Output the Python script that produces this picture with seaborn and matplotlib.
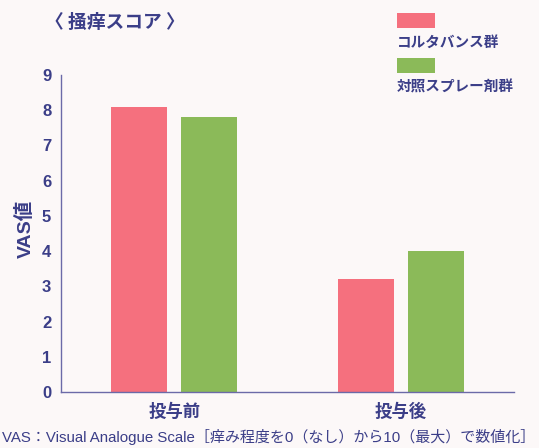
import matplotlib
matplotlib.use("Agg")
import matplotlib.pyplot as plt
from matplotlib.patches import Rectangle
import seaborn as sns
import pandas as pd

# --- data -------------------------------------------------------------
timepoints = ["投与前", "投与後"]
groups = ["コルタバンス群", "対照スプレー剤群"]
cortavance_vas = [8.1, 3.2]
control_vas = [7.8, 4.0]
y_ticks = list(range(10))

title_text = "〈 掻痒スコア 〉"
y_label = "VAS値"
footnote = "VAS：Visual Analogue Scale［痒み程度を0（なし）から10（最大）で数値化］"

df = pd.DataFrame({
    "時期": timepoints * 2,
    "群": [groups[0]] * len(timepoints) + [groups[1]] * len(timepoints),
    "VAS": cortavance_vas + control_vas,
})

# --- style ------------------------------------------------------------
bg = "#fcf8f8"
navy = "#3b3e88"
axis_col = "#6b6aa8"
red = "#f5707e"
green = "#8bba59"
latin_first = ["Liberation Sans", "Noto Sans CJK JP"]

sns.set_theme(style="white")
plt.rcParams["font.family"] = ["Noto Sans CJK JP", "DejaVu Sans"]

W, H = 539, 448
fig = plt.figure(figsize=(W / 100, H / 100), dpi=100, facecolor=bg)
ax = fig.add_axes([61 / W, 1 - 392 / H, (514 - 61) / W, (392 - 75) / H])
ax.set_facecolor(bg)

sns.barplot(
    data=df, x="時期", y="VAS", hue="群",
    order=timepoints, hue_order=groups,
    palette=[red, green], saturation=1,
    width=0.617, gap=0.2, linewidth=0,
    errorbar=None, legend=False, ax=ax,
)

ax.set_xlim(-0.5, 1.5)
ax.set_ylim(0, 9)
ax.set_xlabel("")
ax.set_ylabel("")

for side in ("top", "right"):
    ax.spines[side].set_visible(False)
for side in ("left", "bottom"):
    ax.spines[side].set_color(axis_col)
    ax.spines[side].set_linewidth(1.0)

ax.set_yticks(y_ticks)
ax.set_yticklabels([str(t) for t in y_ticks])
ax.tick_params(axis="y", direction="in", length=5, width=1, color=axis_col,
               pad=7, labelcolor=navy)
for lab in ax.get_yticklabels():
    lab.set_fontfamily(latin_first)
    lab.set_fontweight("bold")
    lab.set_fontsize(12)

ax.set_xticks([0, 1])
ax.set_xticklabels(timepoints)
ax.set_xticks([0.5, 1.5], minor=True)
ax.tick_params(axis="x", which="major", length=0, pad=8, labelsize=12.5,
               labelcolor=navy)
ax.tick_params(axis="x", which="minor", direction="in", length=6, width=1,
               color=axis_col)
for lab in ax.get_xticklabels():
    lab.set_fontweight("bold")

# --- text around the plot ---------------------------------------------
fig.text(45 / W, 1 - 22 / H, title_text, ha="left", va="center",
         fontsize=13.5, fontweight="bold", color=navy)
fig.text(25 / W, 1 - 229 / H, y_label, ha="center", va="center",
         rotation=90, fontsize=14, fontweight="bold", color=navy,
         family=latin_first)
fig.text(269 / W, 1 - 437 / H, footnote, ha="center", va="center",
         fontsize=10.8, color=navy, family=latin_first)

# --- legend: swatch above each label ------------------------------------
for colour, label, top in ((red, groups[0], 13), (green, groups[1], 58)):
    fig.patches.append(Rectangle((397 / W, 1 - (top + 15) / H), 38 / W, 15 / H,
                                 transform=fig.transFigure, facecolor=colour,
                                 edgecolor="none"))
    fig.text(397 / W, 1 - (top + 29) / H, label, ha="left", va="center",
             fontsize=10.5, fontweight="bold", color=navy)

fig.savefig("out.png", dpi=100, facecolor=bg)
